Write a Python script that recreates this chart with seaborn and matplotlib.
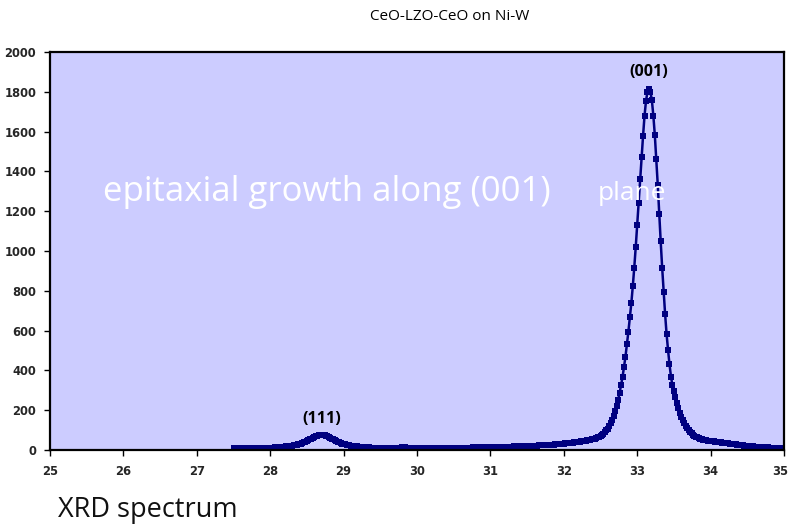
import numpy as np
import pandas as pd
import matplotlib
matplotlib.use("Agg")
import matplotlib.pyplot as plt
import matplotlib.transforms as mtransforms
import seaborn as sns

# XRD scan: 2-theta from 27.5 to 35.0 deg, step 0.02 deg
scan_start = 27.5
scan_step = 0.02
counts = [
    8, 8, 8, 8, 8, 8, 8, 8, 9, 9,                                   # 27.50
    9, 9, 9, 9, 9, 9, 10, 10, 10, 10,                               # 27.70
    10, 10, 11, 11, 11, 12, 12, 12, 13, 13,                         # 27.90
    14, 14, 15, 15, 16, 17, 18, 19, 20, 21,                         # 28.10
    22, 23, 24, 26, 28, 30, 32, 35, 38, 41,                         # 28.30
    45, 49, 53, 57, 61, 65, 68, 71, 73, 74,                         # 28.50
    75, 74, 73, 71, 68, 65, 61, 57, 53, 49,                         # 28.70
    45, 41, 38, 35, 32, 30, 28, 26, 24, 23,                         # 28.90
    22, 21, 20, 19, 18, 17, 16, 15, 15, 14,                         # 29.10
    14, 13, 13, 12, 12, 12, 11, 11, 11, 10,                         # 29.30
    10, 10, 10, 10, 10, 10, 10, 10, 10, 10,                         # 29.50
    10, 10, 11, 11, 12, 13, 13, 13, 12, 12,                         # 29.70
    11, 11, 10, 10, 10, 10, 10, 10, 10, 10,                         # 29.90
    10, 10, 10, 10, 10, 10, 10, 10, 10, 10,                         # 30.10
    10, 10, 11, 11, 11, 11, 11, 11, 11, 11,                         # 30.30
    11, 11, 11, 11, 12, 12, 12, 12, 12, 12,                         # 30.50
    12, 12, 12, 13, 13, 13, 13, 13, 13, 13,                         # 30.70
    14, 14, 14, 14, 14, 15, 15, 15, 15, 15,                         # 30.90
    15, 16, 16, 16, 16, 16, 17, 17, 17, 17,                         # 31.10
    17, 18, 18, 18, 18, 19, 19, 19, 19, 20,                         # 31.30
    20, 20, 21, 21, 21, 22, 22, 22, 23, 23,                         # 31.50
    23, 24, 24, 25, 25, 26, 26, 27, 27, 28,                         # 31.70
    28, 29, 30, 30, 31, 32, 33, 33, 34, 35,                         # 31.90
    36, 37, 38, 39, 40, 41, 42, 43, 44, 45,                         # 32.10
    47, 48, 50, 51, 53, 55, 57, 60, 63, 67,                         # 32.30
    71, 76, 82, 89, 98, 108, 120, 134, 150, 170,                    # 32.50
    195, 222, 252, 286, 325, 366, 416, 469, 532, 595,               # 32.70
    667, 738, 823, 917, 1020, 1132, 1241, 1362, 1472, 1580,         # 32.90
    1680, 1755, 1800, 1815, 1800, 1757, 1680, 1583, 1462, 1333,     # 33.10
    1187, 1048, 917, 796, 684, 584, 503, 431, 369, 325,             # 33.30
    295, 265, 237, 212, 188, 168, 150, 134, 121, 109,               # 33.50
    99, 90, 83, 77, 72, 67, 63, 60, 57, 54,                         # 33.70
    52, 50, 48, 47, 46, 45, 44, 43, 42, 41,                         # 33.90
    40, 39, 38, 37, 36, 35, 34, 33, 32, 31,                         # 34.10
    30, 29, 28, 27, 26, 25, 24, 23, 22, 21,                         # 34.30
    20, 19, 19, 18, 18, 17, 17, 16, 16, 15,                         # 34.50
    15, 14, 14, 13, 13, 12, 12, 12, 11, 11,                         # 34.70
    11, 10, 10, 10, 10, 9,                                          # 34.90
]
two_theta = np.round(scan_start + scan_step * np.arange(len(counts)), 2)

peak_labels = ["(111)", "(001)"]
peak_pos = [28.70, 33.16]
peak_height = [75, 1815]

x_ticks = [25, 26, 27, 28, 29, 30, 31, 32, 33, 34, 35]
y_ticks = [0, 200, 400, 600, 800, 1000, 1200, 1400, 1600, 1800, 2000]

title = "CeO-LZO-CeO on Ni-W"
overlay_main = "epitaxial growth along (001)"
overlay_small = "plane"
caption = "XRD spectrum"

df = pd.DataFrame({"two_theta": two_theta, "counts": counts})

sns.set_theme(style="white")
plt.rcParams["font.family"] = ["DejaVu Sans"]

fig = plt.figure(figsize=(7.88, 5.24), dpi=100)
ax = fig.add_axes([50 / 788, 74 / 524, 734 / 788, 398 / 524])
ax.set_facecolor("#CCCCFF")

navy = "#000080"
sns.lineplot(data=df, x="two_theta", y="counts", ax=ax, color=navy,
             linewidth=1.8, marker="s", markersize=5.0,
             markeredgewidth=0, markerfacecolor=navy, sort=False)

ax.set_xlim(25, 35)
ax.set_ylim(0, 2000)
ax.set_xticks(x_ticks)
ax.set_yticks(y_ticks)
ax.set_xticklabels([str(t) for t in x_ticks], fontsize=8.3, fontweight="bold")
ax.set_yticklabels([str(t) for t in y_ticks], fontsize=8.3, fontweight="bold")
ax.tick_params(axis="both", direction="out", length=4, width=1, color="black",
               bottom=True, left=True)
ax.tick_params(axis="x", pad=7)
ax.tick_params(axis="y", pad=6)
ax.set_xlabel("")
ax.set_ylabel("")
for s in ax.spines.values():
    s.set_color("black")
    s.set_linewidth(1.6)

# keep the last x tick label inside the figure edge
last_lbl = ax.get_xticklabels()[-1]
last_lbl.set_transform(last_lbl.get_transform() +
                       mtransforms.ScaledTranslation(-4 / 100, 0, fig.dpi_scale_trans))

for lab, px, ph in zip(peak_labels, peak_pos, peak_height):
    ax.annotate(lab, (px, ph), xytext=(0, 6), textcoords="offset points",
                ha="center", va="bottom", fontsize=11.5, fontweight="bold",
                family=["Open Sans", "DejaVu Sans"], color="black")

fig.text(450 / 788, 1 - 17 / 524, title, ha="center", va="center",
         fontsize=11, family=["Open Sans", "DejaVu Sans"], color="black")
fig.text(103 / 788, 1 - 192 / 524, overlay_main, ha="left", va="center",
         fontsize=25, family=["Open Sans", "DejaVu Sans"], color="white")
fig.text(598 / 788, 1 - 194 / 524, overlay_small, ha="left", va="center",
         fontsize=19, family=["Open Sans", "DejaVu Sans"], color="white")
fig.text(58 / 788, 1 - 510 / 524, caption, ha="left", va="center",
         fontsize=19.5, family=["Open Sans", "DejaVu Sans"], color="#111111")

fig.savefig("out.png", dpi=100)
